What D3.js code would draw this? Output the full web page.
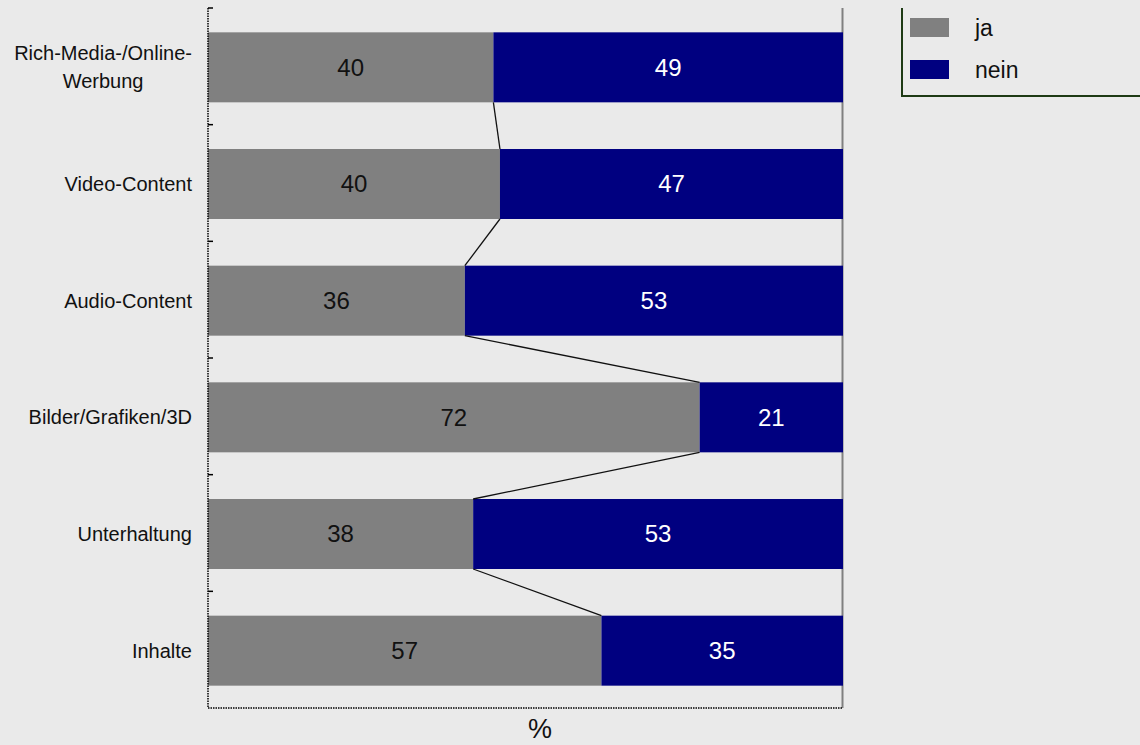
<!DOCTYPE html>
<html>
<head>
<meta charset="utf-8">
<script src="https://cdn.jsdelivr.net/npm/d3@7"></script>
<style>
  html, body { margin: 0; padding: 0; background: #eaeaea; }
  svg { display: block; font-family: "Liberation Sans", Arial, sans-serif; }
</style>
</head>
<body>
<script>
// Data
const categories = [["Rich-Media-/Online-", "Werbung"], ["Video-Content"], ["Audio-Content"], ["Bilder/Grafiken/3D"], ["Unterhaltung"], ["Inhalte"]]
const ja = [40, 40, 36, 72, 38, 57]
const nein = [49, 47, 53, 21, 53, 35]
const seriesNames = ["ja", "nein"]
const axisTitle = "%"

// Config
const width = 1140, height = 745
const margin = { top: 8, left: 208, right: 297, bottom: 37 }
const colors = { ja: "#808080", nein: "#000080" }

const svg = d3.select("body").append("svg")
  .attr("width", width)
  .attr("height", height)

svg.append("rect").attr("width", width).attr("height", height).attr("fill", "#eaeaea")

// Scales (100% stacked)
const idx = categories.map((_, i) => i)
const y = d3.scaleBand().domain(idx).range([margin.top + 1, height - margin.bottom + 1]).paddingInner(0.4).paddingOuter(0.2)
const x = d3.scaleLinear().domain([0, 1]).range([margin.left, width - margin.right])
const share = idx.map(i => ja[i] / (ja[i] + nein[i]))

// Right border
svg.append("line")
  .attr("x1", x(1) - 0.5).attr("x2", x(1) - 0.5)
  .attr("y1", margin.top).attr("y2", height - margin.bottom)
  .attr("stroke", "#808080").attr("stroke-width", 2)

// Bars
const g = svg.append("g")
g.selectAll("rect.ja").data(idx).join("rect")
  .attr("x", x(0)).attr("y", i => y(i))
  .attr("width", i => x(share[i]) - x(0)).attr("height", y.bandwidth())
  .attr("fill", colors.ja)
g.selectAll("rect.nein").data(idx).join("rect")
  .attr("x", i => x(share[i])).attr("y", i => y(i))
  .attr("width", i => x(1) - x(share[i])).attr("height", y.bandwidth())
  .attr("fill", colors.nein)

// Series lines
for (let i = 0; i < idx.length - 1; i++) {
  svg.append("line")
    .attr("x1", x(share[i])).attr("y1", y(i) + y.bandwidth())
    .attr("x2", x(share[i + 1])).attr("y2", y(i + 1))
    .attr("stroke", "#111").attr("stroke-width", 1.3)
}

// Value labels
g.selectAll("text.ja").data(idx).join("text")
  .attr("x", i => (x(0) + x(share[i])) / 2)
  .attr("y", i => y(i) + y.bandwidth() / 2)
  .attr("dy", "0.35em").attr("text-anchor", "middle")
  .attr("font-size", 24).attr("fill", "#111")
  .text(i => ja[i])
g.selectAll("text.nein").data(idx).join("text")
  .attr("x", i => (x(share[i]) + x(1)) / 2)
  .attr("y", i => y(i) + y.bandwidth() / 2)
  .attr("dy", "0.35em").attr("text-anchor", "middle")
  .attr("font-size", 24).attr("fill", "#fff")
  .text(i => nein[i])

// Y axis (dotted) with inward ticks at band boundaries
const plotTop = margin.top, plotBottom = height - margin.bottom
svg.append("line")
  .attr("x1", x(0)).attr("x2", x(0)).attr("y1", plotTop).attr("y2", plotBottom)
  .attr("stroke", "#000").attr("stroke-width", 1.5).attr("stroke-dasharray", "1.5,1")
const boundaries = d3.range(categories.length).map(i => plotTop + i * (plotBottom - plotTop) / categories.length)
svg.selectAll("line.tick").data(boundaries).join("line")
  .attr("x1", x(0)).attr("x2", x(0) + 5).attr("y1", d => d).attr("y2", d => d)
  .attr("stroke", "#000").attr("stroke-width", 1.5)

// X axis (dotted)
svg.append("line")
  .attr("x1", x(0)).attr("x2", x(1)).attr("y1", plotBottom).attr("y2", plotBottom)
  .attr("stroke", "#000").attr("stroke-width", 1.5).attr("stroke-dasharray", "1.5,1")

// Category labels
const labelRight = x(0) - 16
idx.forEach(i => {
  const lines = categories[i]
  const t = svg.append("text")
    .attr("font-size", 20).attr("fill", "#111")
  const cy = y(i) + y.bandwidth() / 2
  const lh = 28
  lines.forEach((ln, k) => {
    t.append("tspan")
      .attr("y", cy + (k - (lines.length - 1) / 2) * lh)
      .attr("dy", "0.35em")
      .text(ln)
  })
  const w = d3.max(t.selectAll("tspan").nodes(), n => n.getComputedTextLength())
  t.attr("text-anchor", "middle")
  t.selectAll("tspan").attr("x", labelRight - w / 2)
})

// Axis title
svg.append("text")
  .attr("x", 540).attr("y", 729)
  .attr("dy", "0.35em").attr("text-anchor", "middle")
  .attr("font-size", 27).attr("fill", "#111")
  .text(axisTitle)

// Legend
const lg = svg.append("g").attr("transform", "translate(902,8)")
lg.append("path")
  .attr("d", "M0,0 V88 H240")
  .attr("fill", "none").attr("stroke", "#1e3a14").attr("stroke-width", 2)
seriesNames.forEach((name, k) => {
  lg.append("rect")
    .attr("x", 8).attr("y", 10 + k * 42).attr("width", 39).attr("height", 19)
    .attr("fill", colors[name])
  lg.append("text")
    .attr("x", 73).attr("y", 20 + k * 42).attr("dy", "0.35em")
    .attr("font-size", 23).attr("fill", "#111")
    .text(name)
})
</script>
</body>
</html>
